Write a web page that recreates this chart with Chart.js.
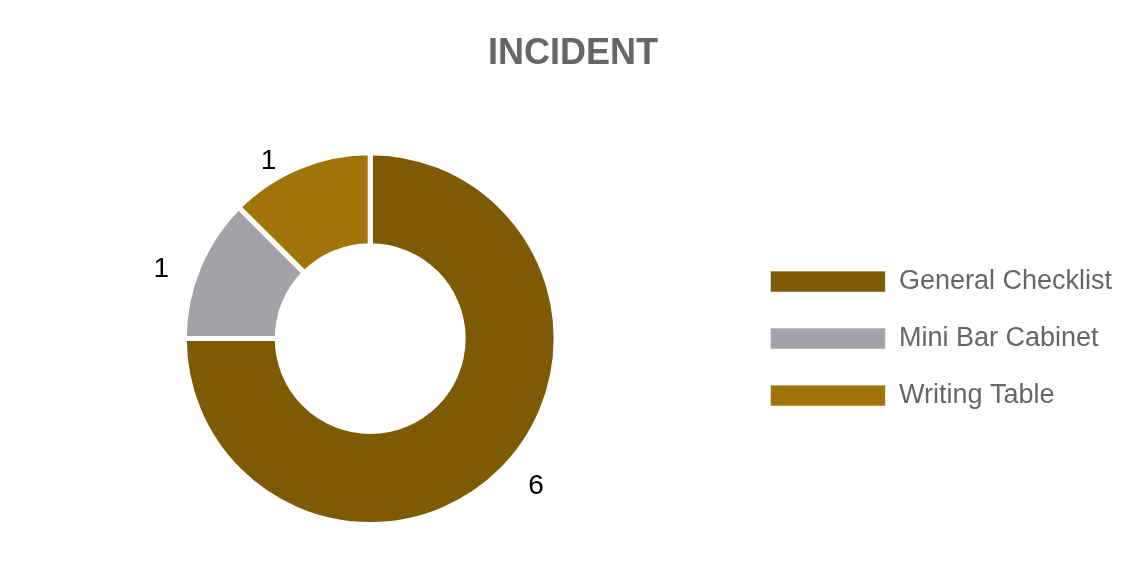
<!DOCTYPE html>
<html>
<head>
<meta charset="utf-8">
<script src="https://cdn.jsdelivr.net/npm/chart.js@4/dist/chart.umd.min.js"></script>
<style>
html,body{margin:0;padding:0;background:#fff;}
#wrap{width:1146px;height:573px;position:relative;}
</style>
</head>
<body>
<div id="wrap"><canvas id="c" width="1146" height="573"></canvas></div>
<script>
const categories = ["General Checklist", "Mini Bar Cabinet", "Writing Table"];
const values = [6, 1, 1];
const colors = ["#7F5A05", "#A2A3A6", "#A07408"];
const titleText = "INCIDENT";

const FONT = "'Liberation Sans', Arial, Helvetica, sans-serif";

const outLabels = {
  id: 'outLabels',
  afterDatasetsDraw(chart) {
    const ctx = chart.ctx;
    const meta = chart.getDatasetMeta(0);
    const data = chart.data.datasets[0].data;
    ctx.save();
    ctx.font = "28px " + FONT;
    ctx.fillStyle = "#000";
    ctx.textAlign = "center";
    ctx.textBaseline = "middle";
    meta.data.forEach((arc, i) => {
      const p = arc.getProps(['x','y','startAngle','endAngle','outerRadius'], true);
      const a = (p.startAngle + p.endAngle) / 2;
      const r = p.outerRadius + 12;
      let x = p.x + Math.cos(a) * r;
      let y = p.y + Math.sin(a) * r;
      x += (Math.cos(a) < 0 ? -26 : 26);
      y += (Math.sin(a) < 0 ? 6 : 8);
      ctx.fillText(String(data[i]), x, y);
    });
    ctx.restore();
  }
};

// widen the legend box so it sits a little further from the doughnut
const legendGap = {
  id: 'legendGap',
  beforeLayout(chart) {
    const lg = chart.legend;
    if (lg && !lg._gapPatched) {
      const fit = lg.fit.bind(lg);
      lg.fit = function () { fit(); this.width += 24; };
      lg._gapPatched = true;
    }
  }
};

new Chart(document.getElementById('c'), {
  type: 'doughnut',
  data: {
    labels: categories,
    datasets: [{
      data: values,
      backgroundColor: colors,
      borderColor: '#ffffff',
      borderWidth: 5,
      hoverOffset: 0
    }]
  },
  options: {
    responsive: false,
    animation: false,
    cutout: '50%',
    layout: { padding: { top: 0, bottom: 46, left: 0, right: 0 } },
    plugins: {
      title: {
        display: true,
        text: titleText,
        color: '#666666',
        font: { family: FONT, size: 36, weight: 'bold' },
        padding: { top: 32, bottom: 75 }
      },
      legend: {
        position: 'right',
        fullSize: false,
        labels: {
          boxWidth: 115,
          boxHeight: 21,
          padding: 30,
          color: '#666666',
          font: { family: FONT, size: 27 },
          generateLabels(chart) {
            const d = chart.data;
            return d.labels.map((l, i) => ({
              text: l,
              fillStyle: d.datasets[0].backgroundColor[i],
              strokeStyle: 'rgba(255,255,255,0.6)',
              lineWidth: 1,
              fontColor: '#666666',
              hidden: false,
              index: i
            }));
          }
        }
      },
      tooltip: { enabled: false }
    }
  },
  plugins: [outLabels, legendGap]
});
</script>
</body>
</html>
